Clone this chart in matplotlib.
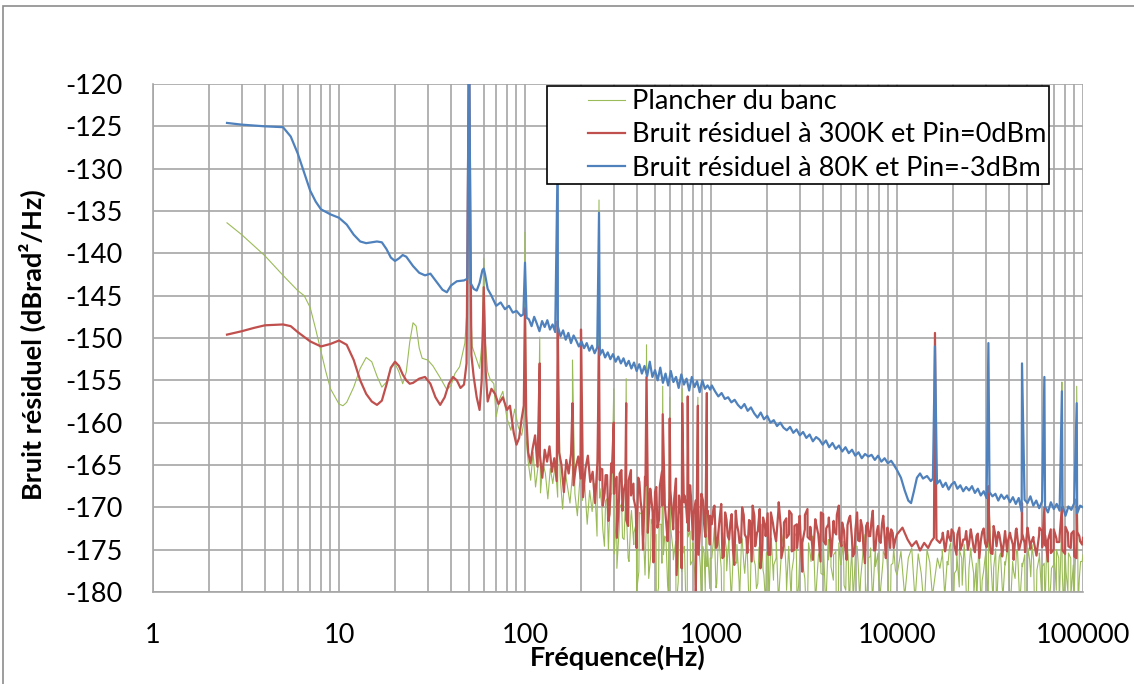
import numpy as np
import matplotlib
matplotlib.use("Agg")
import matplotlib.pyplot as plt
from matplotlib.patches import Rectangle
from matplotlib.legend_handler import HandlerLine2D

plt.rcParams['font.family'] = ['Lato', 'DejaVu Sans']
plt.rcParams['axes.unicode_minus'] = False

# ---- Plancher du banc (vert) ----
green_f_lo = [2.5, 3, 4, 5, 6, 6.5, 7, 7.5, 8, 8.5, 9, 10, 10.5, 11, 12, 13, 14, 15, 16, 17,
              18, 19, 20, 21, 22, 23, 24, 25, 26, 27, 28, 30, 32, 35, 38, 40, 42, 44.5, 47.5, 49,
              50, 51, 52, 55, 57, 59, 60, 61, 63, 65, 68, 70, 73, 76, 80, 84, 88, 92, 96, 98.5,
              100, 101.5]
green_v_lo = [-136.4, -137.8, -140.3, -142.6, -144.4, -145.0, -146.4, -149.0, -151.6, -154.0,
              -156.0, -157.8, -158.0, -157.6, -155.8, -153.6, -152.3, -152.8, -154.5, -155.8,
              -155.2, -153.6, -153.0, -154.0, -155.4, -154.0, -150.5, -148.2, -148.6, -151.2,
              -152.4, -152.6, -153.3, -154.7, -156.1, -155.6, -154.2, -153.4, -150.6, -146.0,
              -115.0, -146.0, -151.0, -152.6, -153.6, -150.0, -140.6, -150.0, -154.0, -154.9,
              -155.4, -159.3, -157.2, -156.3, -159.5, -160.9, -158.4, -160.5, -161.5, -160.0,
              -137.5, -162.0]
green_noise_a = [-164.6, -166.8, -163.5, -167.6, -165.2, -168.3, -164.8, -166.0, -169.0, -165.4,
                 -167.2, -164.9, -168.8, -166.3, -170.2, -165.7, -167.6, -169.5, -166.1, -168.4,
                 -171.0, -166.8, -169.2, -167.4, -172.0, -168.0, -170.5, -167.2, -173.4, -168.9,
                 -170.0, -174.6, -169.0, -171.6, -168.4, -175.5, -170.2, -172.5, -169.6, -173.8,
                 -171.0, -176.4, -170.4, -173.0, -171.8, -177.6, -170.8, -174.2, -172.0, -178.4,
                 -171.4, -174.8, -173.2, -179.5, -172.0, -175.6, -173.6, -180.0, -172.6, -176.2,
                 -174.0, -178.8, -172.8, -175.4, -180.0, -173.5, -176.8, -174.2, -179.2, -173.8,
                 -177.0, -174.6, -180.0, -175.2, -176.0]
green_noise_a2 = [-167.8, -172.6, -169.2, -175.0, -168.4, -171.8, -177.2, -170.0, -173.6, -169.6,
                  -176.0, -171.0, -174.4, -180.0, -170.6, -173.2, -178.0, -171.6, -175.8, -172.4,
                  -181.0, -172.0, -176.6, -173.4, -179.0, -171.8, -175.2, -182.0, -173.0, -177.6,
                  -174.6, -180.5, -172.8, -176.2, -178.8, -174.0, -182.0, -175.4, -177.0, -179.6]
green_noise_b = [-176.0, -172.4, -179.0, -174.2, -181.0, -173.0, -177.5, -175.0, -182.0, -172.8,
                 -176.6, -178.8, -173.6, -177.0, -174.4, -181.5, -173.2, -176.2, -179.6, -174.8,
                 -172.0, -178.0, -175.4, -182.0, -173.8, -176.8, -174.0, -180.5, -175.6, -173.0,
                 -177.8, -174.6, -181.0, -176.0, -173.4, -179.2, -175.0, -177.4, -182.0, -174.2,
                 -176.4, -173.8, -180.2, -175.6, -177.8, -174.4, -181.5, -176.2, -173.6, -178.6,
                 -175.2, -182.0, -176.8, -174.0, -179.8, -175.8, -177.2, -181.0, -174.6, -176.6,
                 -178.4, -175.0, -182.0, -176.0, -174.8, -180.0, -177.0, -175.4, -181.2, -176.4,
                 -175.8, -178.2, -182.0, -176.6, -177.4]
green_noise_b2 = [-174.0, -179.5, -172.6, -177.2, -182.0, -175.0, -173.2, -180.0, -176.4, -174.4,
                  -181.2, -173.8, -177.8, -175.6, -182.0, -172.8, -176.8, -179.0, -174.2, -177.4,
                  -181.5, -175.2, -173.6, -178.6, -176.0, -182.0, -174.6, -172.4, -179.8, -175.8,
                  -177.6, -173.0, -181.0, -176.2, -174.0, -178.4, -182.0, -175.4, -173.4, -180.4,
                  -176.6, -174.8, -178.0, -182.0, -173.8, -177.0, -175.6, -180.8, -174.2, -176.4,
                  -179.2, -173.6, -182.0, -175.0, -177.8, -174.6, -181.0, -176.2, -173.2, -178.8,
                  -175.8, -182.0, -174.4, -177.2, -179.6, -175.2, -173.8, -181.6, -176.8, -174.8]
green_f_mid = [10000, 10500, 11000, 11500, 12000, 12500, 13000, 13500, 14000, 14500, 15000, 15500, 16500]
green_v_mid = [-178.0, -175.2, -180.5, -176.0, -174.8, -181.0, -175.5, -177.8, -182.0, -175.0,
               -176.5, -180.5, -176.0]
green_noise_c = [-177.2, -175.0, -180.5, -176.4, -174.6, -182.0, -177.8, -175.6, -179.4, -176.0,
                 -174.4, -181.0, -177.2, -175.8, -180.2, -176.6, -174.8, -182.0, -177.6, -175.2,
                 -179.0, -176.2, -181.5, -174.9, -177.8, -175.4, -180.6, -176.8, -174.6, -182.0,
                 -176.4, -178.4, -175.0, -181.2, -177.0, -175.6, -179.6, -176.2, -174.4, -182.0,
                 -177.4, -175.8, -180.8, -176.6, -174.8, -181.6, -177.2, -175.2, -179.8, -176.0,
                 -174.2, -182.0, -177.6, -175.4, -180.4, -176.8, -175.0, -181.8, -176.4, -175.6]
green_noise_c2 = [-175.6, -180.0, -176.8, -174.2, -182.0, -177.4, -175.0, -179.2, -176.2, -181.4,
                  -174.8, -177.8, -182.0, -175.6, -178.6, -176.0, -180.6, -174.6, -177.2, -182.0,
                  -175.8, -179.4, -176.4, -174.4, -181.0, -177.6, -175.2, -180.2, -176.6, -182.0,
                  -174.8, -178.2, -176.2, -180.8, -175.4, -177.0, -182.0, -174.6, -179.0, -176.8,
                  -175.0, -181.2, -177.4, -174.8, -180.0, -176.0, -182.0, -175.6, -178.4, -176.4]
green_spike_f = [120, 150, 180, 200, 250, 300, 350, 450, 550, 600, 700, 750, 850, 950,
                 31000, 77000, 92500]
green_spike_v = [-149.9, -150.0, -152.6, -150.0, -133.7, -156.0, -154.8, -150.8, -155.7, -157.0,
                 -156.0, -158.0, -157.0, -158.0, -168.0, -155.2, -155.7]

# ---- Bruit residuel 300K (rouge) ----
red_f_lo = [2.5, 3, 3.5, 4, 5, 5.5, 6, 7, 8, 9, 10, 11, 12, 13, 14, 15, 16, 17, 18, 19,
            20, 21, 22, 23, 24, 25, 27, 29, 31, 33, 35, 37, 39, 41, 43, 45, 47, 48.5, 50, 51.5,
            53, 55, 57, 58.5, 60, 61.5, 63, 66, 69, 72, 76, 80, 83, 87, 90, 93, 96, 98.5, 100, 101.5,
            104, 107]
red_v_lo = [-149.6, -149.2, -148.8, -148.5, -148.4, -148.6, -149.3, -150.4, -151.0, -150.7,
            -150.3, -150.8, -152.6, -155.0, -156.6, -157.5, -157.9, -157.4, -155.5, -153.5,
            -152.8, -153.3, -154.3, -155.0, -155.4, -155.3, -154.8, -154.6, -155.4, -157.0,
            -157.9, -157.0, -155.4, -154.6, -155.0, -155.9, -155.5, -153.0, -115.0, -152.0,
            -154.6, -157.0, -158.5, -155.0, -144.0, -154.0, -157.5, -156.0, -156.6, -157.8,
            -157.0, -158.5, -158.0, -161.2, -162.6, -161.8, -159.5, -158.0, -146.5, -159.0,
            -163.5, -164.8]
red_noise_a = [-163.0, -161.5, -165.2, -163.8, -166.5, -163.2, -164.6, -162.8, -165.8, -164.2,
               -166.9, -163.5, -165.0, -168.2, -164.4, -166.0, -163.6, -167.4, -165.2, -164.0,
               -166.6, -168.8, -165.4, -163.9, -167.0, -165.8, -169.5, -164.6, -166.8, -165.5,
               -168.3, -166.2, -170.8, -165.9, -167.6, -166.4, -169.0, -165.6, -168.0, -171.5,
               -166.8, -168.6, -167.2, -170.2, -166.5, -169.3, -175.0, -167.4, -168.9, -167.8,
               -170.6, -168.2, -172.4, -167.5, -169.8, -168.4, -173.0, -168.9, -170.2, -169.0,
               -178.0, -168.6, -171.2, -169.4, -170.0, -172.8, -168.8, -170.8, -180.0, -169.6,
               -171.5, -169.2, -173.5, -170.4, -171.0]
red_noise_a2 = [-165.4, -169.8, -166.2, -171.6, -164.8, -168.4, -173.6, -166.0, -170.4, -167.2,
                -172.2, -165.6, -169.0, -174.8, -167.0, -170.8, -166.4, -173.0, -168.2, -176.5,
                -167.6, -171.4, -165.8, -169.6, -174.0, -168.0, -172.6, -166.6, -170.2, -177.2,
                -168.6, -171.8, -167.4, -173.8, -169.2, -175.6, -168.4, -172.0, -170.6, -174.4]
red_noise_b = [-172.0, -169.8, -174.5, -171.2, -176.0, -170.6, -173.4, -171.8, -175.2, -170.4,
               -172.9, -174.1, -170.9, -173.6, -171.5, -176.4, -171.0, -173.0, -170.2, -174.8,
               -172.2, -170.7, -175.6, -171.9, -173.8, -170.5, -172.6, -174.6, -171.3, -173.2,
               -170.8, -175.0, -172.0, -171.4, -174.2, -170.9, -173.5, -172.3, -176.2, -171.6,
               -173.1, -170.6, -174.0, -172.5, -171.2, -175.4, -172.8, -170.9, -173.7, -171.8,
               -174.4, -172.1, -171.0, -175.8, -172.6, -173.9, -171.5, -174.7, -172.2, -173.4,
               -171.7, -175.1, -172.9, -174.0, -171.9, -173.6, -172.4, -174.8, -173.0, -173.8]
red_noise_b2 = [-170.2, -174.8, -172.6, -169.6, -175.8, -171.4, -173.8, -170.8, -176.8, -172.0,
                -174.2, -170.0, -173.2, -175.4, -171.6, -169.8, -174.6, -172.8, -177.2, -171.2,
                -173.4, -175.6, -170.6, -172.4, -174.0, -169.4, -176.0, -171.8, -173.6, -170.4,
                -175.2, -172.2, -174.8, -171.0, -177.6, -172.6, -170.2, -173.8, -175.0, -171.4,
                -173.0, -176.4, -170.8, -174.4, -172.0, -175.8, -171.6, -173.2, -169.8, -174.6,
                -172.8, -176.2, -171.2, -173.6, -175.4, -170.6, -174.0, -172.4, -176.6, -171.8,
                -173.4, -170.4, -175.0, -172.2, -174.2, -171.0, -176.0, -173.0, -172.6, -174.8]
red_f_mid = [10000, 10700, 11400, 12000, 12700, 13300, 14000, 14700, 15300, 15800, 16000, 16300]
red_v_mid = [-173.2, -172.4, -173.8, -174.6, -174.0, -175.1, -174.2, -174.8, -174.0, -173.6,
             -149.4, -173.8]
red_noise_c = [-174.2, -173.0, -174.8, -173.4, -172.6, -174.5, -173.2, -175.0, -173.8, -172.8,
               -174.3, -173.5, -175.3, -173.1, -174.0, -172.5, -174.7, -173.6, -175.5, -173.3,
               -172.9, -174.6, -173.9, -175.2, -173.0, -174.4, -172.7, -175.0, -173.7, -174.2,
               -172.4, -174.9, -173.5, -175.6, -173.2, -172.8, -174.5, -173.9, -175.4, -172.6,
               -174.1, -173.4, -175.1, -172.3, -174.6, -173.1, -175.8, -172.9, -174.0, -173.6]
red_noise_c2 = [-173.6, -175.2, -172.8, -174.0, -173.0, -175.6, -172.4, -174.4, -173.8, -175.0,
                -172.6, -174.8, -173.4, -176.0, -172.9, -174.2, -173.6, -175.4, -172.2, -174.6,
                -173.2, -175.8, -172.8, -174.0, -173.5, -176.2, -172.5, -174.9, -173.1, -175.3,
                -172.7, -174.3, -173.9, -175.7, -172.4, -174.7, -173.3, -176.4, -172.6, -175.0,
                -173.7, -174.1, -172.3, -175.5, -173.0, -174.8, -172.8, -176.0, -173.4, -174.4]
red_spike_f = [120, 150, 180, 200, 250, 300, 350, 450, 550, 600, 700, 750, 850, 950,
               31000, 47000, 62000, 77000, 92500]
red_spike_v = [-153.0, -148.0, -157.7, -149.0, -151.0, -160.0, -157.7, -154.6, -159.0, -159.5,
               -157.7, -156.9, -158.0, -156.5, -167.5, -169.5, -170.0, -170.0, -169.0]

# ---- Bruit residuel 80K (bleu) ----
blue_f_lo = [2.5, 3, 4, 5, 5.5, 6, 6.5, 7, 7.5, 8, 9, 10, 11, 12, 13, 14, 16, 17, 18, 19,
             20, 21, 22, 23, 25, 27, 29, 31, 33, 36, 38, 40, 43, 47, 49, 50, 51, 53, 55, 57,
             59, 60, 61, 63, 66, 70, 74, 78, 82, 86, 90, 95, 98, 100, 102]
blue_v_lo = [-124.6, -124.8, -125.0, -125.1, -126.2, -128.2, -130.5, -132.6, -133.9, -134.8,
             -135.4, -135.8, -136.6, -137.8, -138.6, -138.8, -138.6, -138.7, -139.5, -140.5,
             -140.9, -140.6, -140.2, -140.4, -141.5, -142.3, -142.6, -142.4, -143.2, -144.3,
             -144.6, -143.8, -143.3, -143.2, -143.0, -110.0, -143.5, -144.2, -144.4, -143.5,
             -142.0, -141.8, -142.5, -144.2, -145.0, -146.2, -145.8, -146.6, -146.2, -147.0,
             -146.8, -147.4, -147.2, -141.1, -147.6]
blue_noise_a = [-147.8, -148.6, -147.5, -148.3, -149.2, -148.0, -148.7, -147.9, -149.0, -148.4,
                -149.3, -148.6, -149.8, -149.1, -150.2, -149.4, -150.6, -149.7, -150.3, -151.0,
                -150.4, -151.2, -150.6, -151.5, -150.9, -151.8, -151.1, -152.0, -151.4, -152.3,
                -151.7, -152.5, -151.9, -152.8, -152.2, -153.0, -152.4, -153.3, -152.7, -153.6,
                -152.9, -153.9, -153.1, -154.2, -153.3, -154.5, -152.8, -154.6, -153.8, -155.0,
                -153.5, -155.3, -154.2, -155.6, -153.9, -155.2, -154.6, -155.9, -154.3, -155.5,
                -154.8, -156.2, -154.6, -155.8, -155.1, -156.4, -155.0, -156.0, -155.6, -156.1]
blue_noise_b = [-155.6, -156.3, -156.9, -156.5, -157.2, -157.0, -157.6, -157.3, -157.9, -158.3,
                -157.8, -158.6, -158.2, -158.9, -159.4, -158.8, -159.6, -159.2, -160.0, -159.7,
                -160.4, -160.0, -160.6, -160.9, -160.5, -161.2, -160.8, -161.5, -161.1, -161.8,
                -161.4, -162.2, -161.7, -162.0, -162.6, -162.1, -162.9, -162.4, -163.1, -162.7,
                -163.4, -162.9, -163.6, -163.2, -163.9, -163.5, -164.2, -163.7, -164.0, -163.8,
                -164.4, -163.9, -164.6, -164.2, -164.8, -164.5]
blue_f_mid = [9500, 10000, 10500, 11000, 11500, 11900, 12300, 12800, 13300, 13800, 14500,
              15200, 15600, 16000, 16400]
blue_v_mid = [-164.8, -165.6, -166.5, -168.0, -169.2, -169.5, -168.2, -166.5, -166.0, -166.6,
              -166.3, -166.9, -166.6, -151.0, -167.2]
blue_noise_c = [-166.8, -167.6, -167.1, -167.9, -167.3, -167.0, -167.8, -167.4, -168.1, -167.6,
                -168.0, -167.5, -168.3, -167.8, -168.6, -168.1, -168.9, -168.2, -168.7, -168.4,
                -169.2, -168.5, -169.0, -168.6, -169.4, -168.8, -169.6, -168.9, -170.5, -169.1,
                -169.5, -168.7, -169.8, -169.2, -170.1, -169.3, -169.9, -170.6, -169.4, -170.2,
                -169.6, -170.4, -169.8, -171.0, -169.9, -170.3, -169.5, -170.7, -169.8, -170.0]
blue_spike_f = [150, 250, 31000, 47000, 62000, 77000, 92500]
blue_spike_v = [-128.0, -135.2, -150.6, -153.0, -154.6, -156.3, -157.7]


def build(f_lo, v_lo, segs, f_mid, v_mid, spike_f, spike_v):
    f = list(f_lo) + list(f_mid) + list(spike_f)
    v = list(v_lo) + list(v_mid) + list(spike_v)
    for (a, b, vals) in segs:
        f += list(np.geomspace(a, b, len(vals)))
        v += list(vals)
    f = np.array(f)
    v = np.array(v)
    order = np.argsort(f)
    return f[order], v[order]


gf, gv = build(green_f_lo, green_v_lo,
               [(104, 990, green_noise_a), (253, 985, green_noise_a2),
                (1010, 9800, green_noise_b), (1030, 9600, green_noise_b2),
                (17000, 100000, green_noise_c), (17500, 99000, green_noise_c2)],
               green_f_mid, green_v_mid, green_spike_f, green_spike_v)
rf, rv = build(red_f_lo, red_v_lo,
               [(110, 990, red_noise_a), (253, 985, red_noise_a2),
                (1010, 9800, red_noise_b), (1030, 9600, red_noise_b2),
                (17000, 100000, red_noise_c), (17500, 99000, red_noise_c2)],
               red_f_mid, red_v_mid, red_spike_f, red_spike_v)
bf, bv = build(blue_f_lo, blue_v_lo,
               [(105, 990, blue_noise_a), (1010, 9300, blue_noise_b), (17000, 100000, blue_noise_c)],
               blue_f_mid, blue_v_mid, blue_spike_f, blue_spike_v)

fig = plt.figure(figsize=(11.34, 6.84), dpi=100)
ax = fig.add_axes([153 / 1134, 1 - 592 / 684, 930 / 1134, 508 / 684])

ax.plot(gf, gv, color='#9BBB59', lw=0.8, label='Plancher du banc')
ax.plot(rf, rv, color='#C0504D', lw=1.6, label='Bruit résiduel à 300K et Pin=0dBm')
ax.plot(bf, bv, color='#4F81BD', lw=1.6, label='Bruit résiduel à 80K et Pin=-3dBm')

ax.set_xscale('log')
ax.set_xlim(1, 100000)
ax.set_ylim(-180, -120)
ax.set_yticks(np.arange(-180, -119, 5))
ax.set_xticks([1, 10, 100, 1000, 10000, 100000])
ax.set_xticklabels(['1', '10', '100', '1000', '10000', '100000'])
ax.xaxis.set_minor_formatter(matplotlib.ticker.NullFormatter())
ax.grid(True, which='both', axis='x', color='#A6A6A6', lw=1.2)
ax.grid(True, which='major', axis='y', color='#A6A6A6', lw=1.2)
ax.set_axisbelow(True)
ax.tick_params(which='both', length=0, labelsize=19.5)
ax.tick_params(axis='y', pad=22)
ax.tick_params(axis='x', pad=22)
for s in ['top', 'right']:
    ax.spines[s].set_visible(False)
for s in ['left', 'bottom']:
    ax.spines[s].set_color('#A6A6A6')
    ax.spines[s].set_linewidth(1.2)

fig.text(618 / 1134, 1 - 657 / 684, 'Fréquence(Hz)', fontsize=19.5, fontweight='bold',
         ha='center', va='center')
fig.text(32 / 1134, 1 - 345 / 684, 'Bruit résiduel (dBrad²/Hz)', fontsize=19.5, fontweight='bold',
         ha='center', va='center', rotation=90)

leg = fig.legend(loc='upper left', bbox_to_anchor=(547 / 1134, 1 - 86 / 684), fontsize=19.5,
                 frameon=True, fancybox=False, handlelength=2.75, handletextpad=0.25,
                 borderpad=0.12, labelspacing=0.3, borderaxespad=0,
                 handler_map={matplotlib.lines.Line2D: HandlerLine2D(xpad=1.4)})
leg.get_frame().set_edgecolor('black')
leg.get_frame().set_linewidth(1.2)
leg.get_frame().set_alpha(1)

fig.patches.append(Rectangle((3 / 1134, -0.05), 1.1, 1 - 6 / 684 + 0.05, transform=fig.transFigure,
                             fill=False, edgecolor='#8C8C8C', lw=1.2))

fig.savefig('out.png', dpi=100)
